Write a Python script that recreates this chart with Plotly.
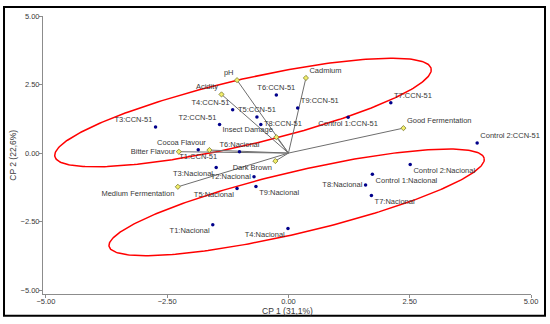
import numpy as np
import plotly.graph_objects as go

# Sample scores (CP1, CP2)
sample_names = ["T3:CCN-51", "T2:CCN-51", "T4:CCN-51", "T6:CCN-51", "T5:CCN-51", "T8:CCN-51",
                "T9:CCN-51", "Control 1:CCN-51", "T7:CCN-51", "Control 2:CCN-51",
                "T1:CCN-51", "T6:Nacional", "T3:Nacional", "T2:Nacional", "T5:Nacional",
                "T9:Nacional", "T1:Nacional", "T4:Nacional", "T8:Nacional", "T7:Nacional",
                "Control 1:Nacional", "Control 2:Nacional"]
sample_x = [-2.74, -1.42, -1.15, -0.25, -0.65, -0.57, 0.19, 1.23, 2.11, 3.89,
            -1.86, -1.01, -1.49, -0.71, -1.06, -0.67, -1.56, -0.01, 1.59, 1.71, 1.73, 2.51]
sample_y = [0.95, 1.04, 1.58, 2.12, 1.32, 1.04, 1.64, 1.31, 1.84, 0.37,
            0.12, 0.05, -0.53, -0.86, -1.29, -1.22, -2.61, -2.75, -1.16, -1.55, -0.77, -0.42]
sample_pos = ["top left", "top left", "top left", "top center", "top center", "middle right",
              "top right", "bottom center", "top right", "top right",
              "bottom center", "top center", "bottom left", "middle left", "bottom left",
              "bottom right", "bottom left", "bottom left", "middle left", "bottom right",
              "bottom right", "bottom right"]

# Variable loadings
var_names = ["pH", "Acidity", "Cadmium", "Insect Damage", "Dark Brown", "Cocoa Flavour",
             "Bitter Flavour", "Medium Fermentation", "Good Fermentation"]
var_x = [-1.06, -1.38, 0.36, -0.25, -0.27, -1.63, -2.26, -2.28, 2.37]
var_y = [2.66, 2.14, 2.74, 0.58, -0.29, 0.11, 0.05, -1.23, 0.91]
var_pos = ["top left", "top left", "top right", "top left", "bottom left", "top left",
           "middle left", "bottom left", "top right"]

# Group ellipses: center, major semi-axis vector, minor semi-axis vector (data units)
ell_center = [(-0.937, 1.48), (0.169, -1.798)]
ell_major = [(3.878, 1.607), (3.866, 1.612)]
ell_minor = [(0.156, -1.16), (0.148, -1.089)]

tick_vals = [-5, -2.5, 0, 2.5, 5]
tick_text = ["\u22125.00", "\u22122.50", "0.00", "2.50", "5.00"]

FONT = "Liberation Sans, Arial, sans-serif"
TXT = "#383838"
fig = go.Figure()

# Ellipses
t = np.linspace(0, 2 * np.pi, 300)
for c, ma, mi in zip(ell_center, ell_major, ell_minor):
    ex = c[0] + ma[0] * np.cos(t) + mi[0] * np.sin(t)
    ey = c[1] + ma[1] * np.cos(t) + mi[1] * np.sin(t)
    fig.add_trace(go.Scatter(x=ex, y=ey, mode="lines", line=dict(color="#FF0000", width=1.5),
                             hoverinfo="skip", showlegend=False))

# Loading vectors
lx, ly = [], []
for vx, vy in zip(var_x, var_y):
    lx += [0, vx, None]
    ly += [0, vy, None]
fig.add_trace(go.Scatter(x=lx, y=ly, mode="lines", line=dict(color="#6E6E6E", width=1),
                         hoverinfo="skip", showlegend=False))

fig.add_trace(go.Scatter(x=var_x, y=var_y, mode="markers+text", text=var_names,
                         textposition=var_pos, cliponaxis=False,
                         textfont=dict(family=FONT, size=7.5, color=TXT),
                         marker=dict(symbol="diamond", size=4, color="#F2EE6A",
                                     line=dict(color="#7A7A30", width=0.8)),
                         showlegend=False))

fig.add_trace(go.Scatter(x=sample_x, y=sample_y, mode="markers+text", text=sample_names,
                         textposition=sample_pos, cliponaxis=False,
                         textfont=dict(family=FONT, size=7.5, color=TXT),
                         marker=dict(symbol="circle", size=3.5, color="#00008B"),
                         showlegend=False))

axis_common = dict(showgrid=False, zeroline=False, showline=True, linecolor="#8C8C8C",
                   linewidth=1, ticks="outside", ticklen=3, tickcolor="#8C8C8C",
                   tickvals=tick_vals, ticktext=tick_text,
                   tickfont=dict(family=FONT, size=7.5, color=TXT))

fig.update_layout(
    width=550, height=324,
    margin=dict(l=43, r=19, t=13, b=30),
    plot_bgcolor="white", paper_bgcolor="white",
    xaxis=dict(range=[-5.06, 5.0], ticklabelstandoff=-3, **axis_common),
    yaxis=dict(range=[-5.14, 5.0], ticklabelstandoff=-2, **axis_common),
    annotations=[
        dict(text="CP 1 (31,1%)", xref="paper", yref="paper", x=0.50, y=-0.061,
             showarrow=False, font=dict(family=FONT, size=8.5, color=TXT),
             xanchor="center", yanchor="middle"),
        dict(text="CP 2 (22,6%)", xref="paper", yref="paper", x=-0.062, y=0.50,
             showarrow=False, textangle=-90, font=dict(family=FONT, size=8.5, color=TXT),
             xanchor="center", yanchor="middle"),
    ],
    shapes=[dict(type="rect", xref="paper", yref="paper", x0=-0.0799, x1=1.0287,
                 y0=-0.078, y1=1.032, line=dict(color="black", width=2),
                 fillcolor="rgba(0,0,0,0)")],
)

fig.write_html("out.html", config={"displayModeBar": False},
               post_script="document.body.style.margin='0';document.body.style.overflow='hidden';")
